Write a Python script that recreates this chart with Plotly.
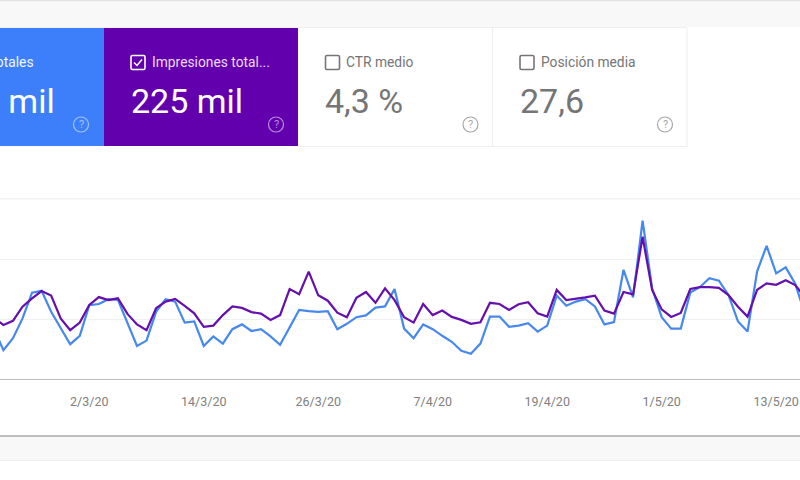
"""Gráfico de rendimiento: clics e impresiones diarias con tarjetas de métricas."""
import pandas as pd
import plotly.graph_objects as go

W, H = 800, 480

# 21/2/20 .. 16/5/20
start_date = "2020-02-21"
end_date = "2020-05-16"

clicks = [
    84, 48, 68, 101, 144, 147, 112, 84, 58,
    72, 123, 125, 133, 132, 93, 55, 64, 112, 133, 129, 94, 96, 55, 71, 59, 83,
    91, 80, 83, 71, 57, 87, 115, 113, 112, 113, 83, 92, 103, 106,
    119, 121, 150, 84, 68, 91, 83, 72, 62, 47, 42, 59, 104, 104, 87, 89, 93, 79,
    89, 139, 122, 129, 133, 121, 91, 95, 182, 136, 264, 151,
    103, 84, 84, 144, 153, 168, 164, 140, 96, 79, 179, 222, 176, 186, 159, 109,
]
impressions = [
    2040, 1800, 1940, 2410, 2690, 2930, 2780, 2020, 1630,
    1880, 2470, 2730, 2630, 2690, 2170, 1820, 1630, 2360, 2580, 2670, 2440, 2190,
    1740, 1780, 2130, 2420, 2370, 2230, 2180, 1970, 2130, 3000, 2830, 3580, 2790,
    2610, 2210, 2060, 2710, 2900,
    2540, 3020, 2630, 2060, 1880, 2500, 2130, 2280, 2070, 1970, 1840, 1890, 2540,
    2500, 2300, 2490, 2560, 2190, 2080, 2970, 2630, 2670, 2720, 2780, 2280, 2180,
    2900, 2820, 4740, 2970,
    2320, 2070, 2200, 3000, 3060, 3060, 3040, 2800, 2410, 2080, 2970, 3190, 3140,
    3290, 3130, 2740,
]

tick_dates = ["2020-03-02", "2020-03-14", "2020-03-26", "2020-04-07",
              "2020-04-19", "2020-05-01", "2020-05-13"]
tick_labels = ["2/3/20", "14/3/20", "26/3/20", "7/4/20", "19/4/20", "1/5/20", "13/5/20"]

card_labels = ["Clics totales", "Impresiones total...", "CTR medio", "Posición media"]
card_values = ["9,7 mil", "225 mil", "4,3 %", "27,6"]

BLUE = "#4688f0"
BLUE_CARD = "#3d7ffb"
PURPLE = "#640fae"
PURPLE_CARD = "#6200ae"
GREY_TEXT = "#757575"
GRID = "#f0f0f0"
FONT = "Roboto"

dates = pd.date_range(start_date, end_date, freq="D")


def px_x(x):
    return x / W


def px_y(y):
    return 1 - y / H


def rect(x0, y0, x1, y1, fill, line=None, width=0):
    return dict(type="rect", xref="paper", yref="paper", layer="below",
                x0=px_x(x0), x1=px_x(x1), y0=px_y(y1), y1=px_y(y0),
                fillcolor=fill, line=dict(color=line or fill, width=width))


def path(points, color, width, close=False):
    d = "M" + " L".join(f"{px_x(x):.5f},{px_y(y):.5f}" for x, y in points)
    return dict(type="path", xref="paper", yref="paper", path=d + (" Z" if close else ""),
                line=dict(color=color, width=width))


def checkbox(x, y, color, checked):
    s = 14
    r = 1.5
    d = (f"M{px_x(x + r):.5f},{px_y(y):.5f} L{px_x(x + s - r):.5f},{px_y(y):.5f} "
         f"Q{px_x(x + s):.5f},{px_y(y):.5f} {px_x(x + s):.5f},{px_y(y + r):.5f} "
         f"L{px_x(x + s):.5f},{px_y(y + s - r):.5f} "
         f"Q{px_x(x + s):.5f},{px_y(y + s):.5f} {px_x(x + s - r):.5f},{px_y(y + s):.5f} "
         f"L{px_x(x + r):.5f},{px_y(y + s):.5f} "
         f"Q{px_x(x):.5f},{px_y(y + s):.5f} {px_x(x):.5f},{px_y(y + s - r):.5f} "
         f"L{px_x(x):.5f},{px_y(y + r):.5f} "
         f"Q{px_x(x):.5f},{px_y(y):.5f} {px_x(x + r):.5f},{px_y(y):.5f} Z")
    out = [dict(type="path", xref="paper", yref="paper", path=d,
                line=dict(color=color, width=1.6))]
    if checked:
        out.append(path([(x + 3, y + 7), (x + 6, y + 10), (x + 11, y + 4)], color, 1.5))
    return out


def help_icon(cx, cy, color):
    r = 7.5
    shape = dict(type="circle", xref="paper", yref="paper",
                 x0=px_x(cx - r), x1=px_x(cx + r), y0=px_y(cy + r), y1=px_y(cy - r),
                 line=dict(color=color, width=1.2))
    note = dict(x=px_x(cx), y=px_y(cy), xref="paper", yref="paper", text="?", showarrow=False,
                xanchor="center", yanchor="middle", font=dict(family=FONT, size=11, color=color))
    return shape, note


def label(x, y, text, size, color, anchor="left", weight=400):
    return dict(x=px_x(x), y=px_y(y), xref="paper", yref="paper", text=text, showarrow=False,
                xanchor=anchor, yanchor="middle", borderpad=0, borderwidth=0,
                font=dict(family=FONT, size=size, color=color, weight=weight))


shapes = [
    rect(0, 0, W, 1.5, "#e2e2e2"),
    rect(0, 1.5, W, 27, "#f8f8f8"),
    rect(0, 27, 687, 28, "#eeeeee"),
    rect(0, 28, 104, 146, BLUE_CARD),
    rect(104, 28, 298, 146, PURPLE_CARD),
    rect(298, 146, 687, 147, "#eeeeee"),
    rect(492, 28, 493, 146, "#eeeeee"),
    rect(686.5, 28, 687.5, 147, "#eeeeee"),
    rect(0, 435, W, 437, "#bdbdbd"),
    rect(0, 437, W, 460, "#f8f8f8"),
    rect(0, 460, W, 461, "#eeeeee"),
    rect(0, 198, W, 199.5, "#f1f1f1"),
]
annotations = [
    label(33.5, 62, card_labels[0], 13.8, "#f2f6ff", "right"),
    label(152, 62, card_labels[1], 13.8, "#eadcf5"),
    label(346, 62, card_labels[2], 13.8, GREY_TEXT),
    label(541, 62, card_labels[3], 13.8, GREY_TEXT),
    label(55, 101, card_values[0], 34, "white", "right"),
    label(131, 101, card_values[1], 34, "white"),
    label(325, 101, card_values[2], 34, GREY_TEXT),
    label(520, 101, card_values[3], 34, GREY_TEXT),
]

shapes += checkbox(131, 55.5, "white", True)
shapes += checkbox(325.5, 55.5, GREY_TEXT, False)
shapes += checkbox(520, 55.5, GREY_TEXT, False)

for cx, color in [(81, "#a3c4fd"), (276, "#b98fdc"), (470.5, "#a8a8a8"), (665, "#a8a8a8")]:
    icon, mark = help_icon(cx, 124.5, color)
    shapes.append(icon)
    annotations.append(mark)

fig = go.Figure()
fig.add_trace(go.Scatter(
    x=dates, y=clicks, name="Clics", mode="lines",
    line=dict(color=BLUE, width=2.2), yaxis="y",
))
fig.add_trace(go.Scatter(
    x=dates, y=impressions, name="Impresiones", mode="lines",
    line=dict(color=PURPLE, width=2.2), yaxis="y2",
))

y_domain = [px_y(379), px_y(199)]
fig.update_layout(
    width=W, height=H,
    margin=dict(l=0, r=0, t=0, b=0),
    paper_bgcolor="white", plot_bgcolor="rgba(0,0,0,0)",
    showlegend=False,
    shapes=shapes,
    annotations=annotations,
    xaxis=dict(
        type="date", domain=[0, 1],
        range=["2020-02-21 15:21", "2020-05-15 12:00"],
        tickvals=tick_dates, ticktext=tick_labels,
        showgrid=False, zeroline=False,
        showline=True, linecolor="#bdbdbd", linewidth=1,
        ticks="", ticklabelstandoff=11,
        tickfont=dict(family=FONT, size=12.5, color="#808080"),
    ),
    yaxis=dict(
        domain=y_domain, range=[0, 300], dtick=100,
        showticklabels=False, showgrid=True, gridcolor=GRID, gridwidth=1,
        zeroline=False, ticks="",
    ),
    yaxis2=dict(
        domain=y_domain, range=[0, 6000], dtick=2000, overlaying="y",
        showticklabels=False, showgrid=False, zeroline=False, ticks="",
    ),
)

# sin el margen por defecto del body, la figura empieza en (0,0)
fig.write_html(
    "out.html",
    config={"displayModeBar": False},
    post_script="document.body.style.margin='0';document.documentElement.style.overflow='hidden';",
)
